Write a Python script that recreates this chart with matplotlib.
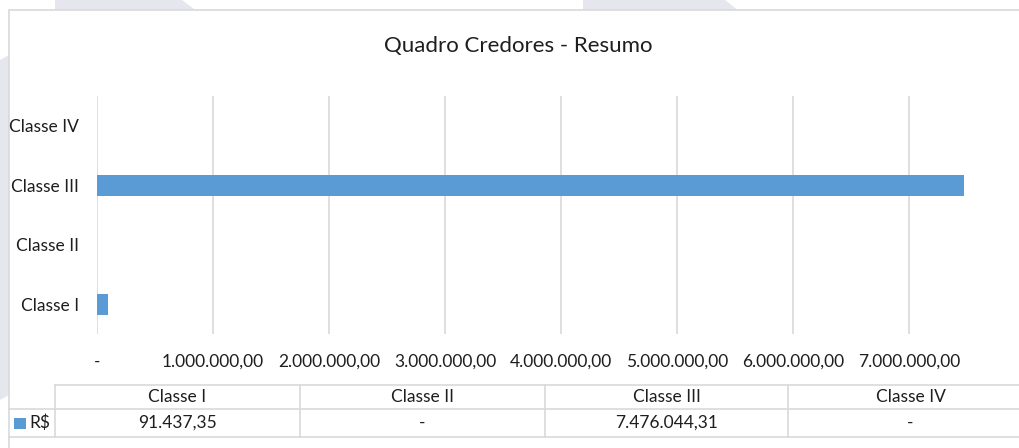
import matplotlib.pyplot as plt
from matplotlib.patches import Rectangle, Polygon
from matplotlib.lines import Line2D

plt.rcParams['font.family'] = ['Lato', 'DejaVu Sans']

categorias = ['Classe I', 'Classe II', 'Classe III', 'Classe IV']
valores = [91437.35, 0, 7476044.31, 0]
rotulos_tabela = ['91.437,35', '-', '7.476.044,31', '-']
ticks_x = [0, 1e6, 2e6, 3e6, 4e6, 5e6, 6e6, 7e6]
serie = 'R$'

W, H = 1019, 448
AZUL = '#5b9bd5'
GRADE = '#d9d9d9'
TEXTO = '#1e1e1e'
FS = 12.5


def px(x, y):
    # pixel coords (top-left origin) -> figure fraction
    return x / W, 1 - y / H


def fmt_br(v):
    if v == 0:
        return '-'
    s = f'{v:,.2f}'
    return s.replace(',', 'X').replace('.', ',').replace('X', '.')


fig = plt.figure(figsize=(W / 100, H / 100), dpi=100)

# faint watermark behind the chart
marca = '#e6e6ef'
for pts in [[(55, 0), (182, 0), (198, 12), (55, 12)],
            [(583, 0), (725, 0), (740, 12), (583, 12)],
            [(0, 60), (9, 55), (9, 395), (0, 400)]]:
    fig.add_artist(Polygon([px(*p) for p in pts], closed=True,
                           transform=fig.transFigure, facecolor=marca,
                           edgecolor='none', zorder=0))

# chart area
x0, y0 = px(9, 460)
x1, y1 = px(1030, 10)
fig.add_artist(Rectangle((x0, y0), x1 - x0, y1 - y0, transform=fig.transFigure,
                         facecolor='white', edgecolor=GRADE, lw=1.2, zorder=1))

fig.text(*px(518, 46), 'Quadro Credores - Resumo', ha='center', va='center',
         fontsize=16, color=TEXTO, zorder=4)

left, top = px(97, 96)
right, bottom = px(1025, 334)
ax = fig.add_axes([left, bottom, right - left, top - bottom])
ax.set_zorder(5)
ax.patch.set_alpha(0)

ypos = list(range(len(categorias)))
ax.barh(ypos, valores, height=0.35, color=AZUL, zorder=3)
ax.set_xlim(0, 8e6)
ax.set_ylim(-0.5, len(categorias) - 0.5)
ax.set_yticks(ypos)
ax.set_yticklabels(categorias, fontsize=FS, color=TEXTO)
ax.set_xticks(ticks_x)
ax.set_xticklabels([fmt_br(v) for v in ticks_x], fontsize=FS, color=TEXTO)
ax.tick_params(axis='both', length=0)
ax.tick_params(axis='x', pad=14)
ax.tick_params(axis='y', pad=13)
ax.grid(axis='x', color=GRADE, lw=1.2, zorder=0)
for s in ax.spines.values():
    s.set_visible(False)

# data table
colunas = [55, 300, 545, 788, 1033]
linhas = [385, 409, 437]


def linha(xa, ya, xb, yb):
    fig.add_artist(Line2D([px(xa, ya)[0], px(xb, yb)[0]],
                          [px(xa, ya)[1], px(xb, yb)[1]],
                          transform=fig.transFigure, color=GRADE, lw=1.2, zorder=2))


linha(colunas[0], linhas[0], 1030, linhas[0])
linha(9, linhas[1], 1030, linhas[1])
linha(9, linhas[2], 1030, linhas[2])
for c in colunas[:-1]:
    linha(c, linhas[0], c, linhas[2])

for i, cat in enumerate(categorias):
    xc = (colunas[i] + colunas[i + 1]) / 2
    fig.text(*px(xc, 397), cat, ha='center', va='center', fontsize=FS,
             color=TEXTO, zorder=4)
    fig.text(*px(xc, 423), rotulos_tabela[i], ha='center', va='center',
             fontsize=FS, color=TEXTO, zorder=4)

lx, ly = px(14, 429)
lw_, lh_ = 12 / W, 11 / H
fig.add_artist(Rectangle((lx, ly), lw_, lh_, transform=fig.transFigure,
                         facecolor=AZUL, edgecolor='none', zorder=3))
fig.text(*px(29, 423), serie, ha='left', va='center', fontsize=FS,
         color=TEXTO, zorder=4)

plt.savefig('out.png', dpi=100)
